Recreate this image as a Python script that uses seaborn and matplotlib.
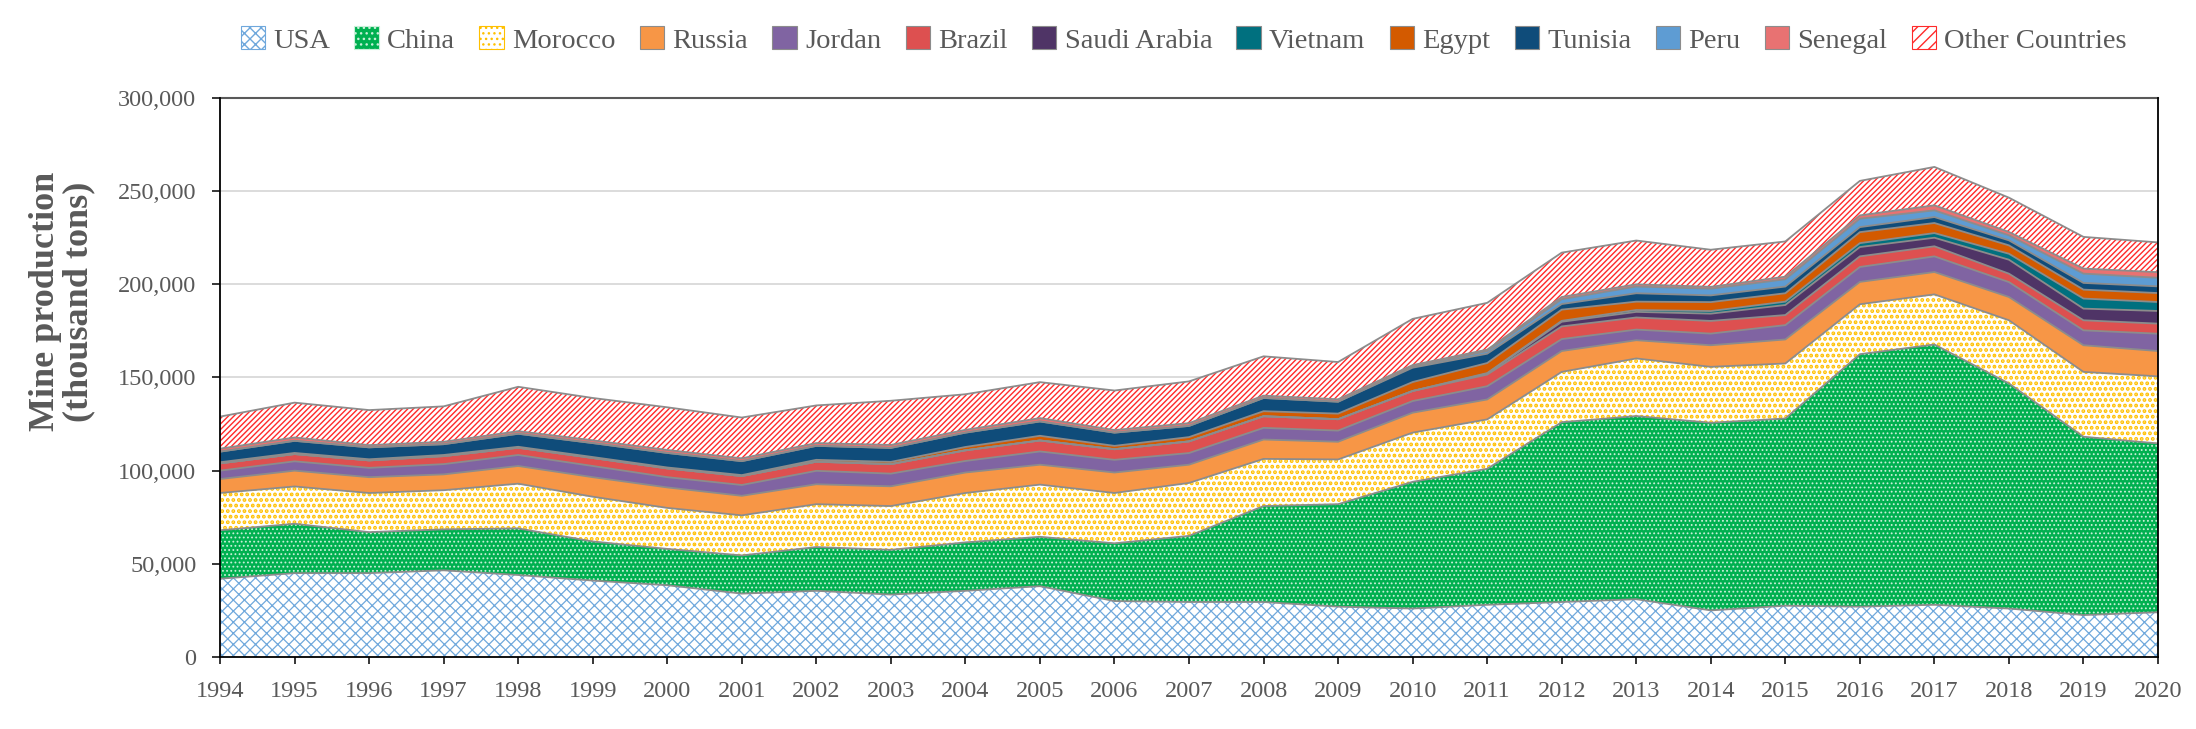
import matplotlib
matplotlib.use("Agg")
import matplotlib.pyplot as plt
import numpy as np
import pandas as pd
import seaborn as sns
from matplotlib.patches import Patch
from matplotlib.ticker import FuncFormatter, MultipleLocator

years = list(range(1994, 2021))

usa = [42000, 45000, 45000, 46500, 44000, 41000, 38500, 34000, 35500, 33500, 35500, 38000, 30000, 29500,
       29500, 27000, 26000, 28000, 29500, 31000, 25000, 27500, 27000, 28000, 26000, 22500, 24000]
china = [26000, 26500, 22000, 22000, 25000, 21000, 19500, 20500, 23500, 24000, 26000, 26500, 31000, 35500,
         51500, 55000, 68000, 73000, 96500, 98300, 100700, 100500, 135500, 139700, 120800, 95700, 90600]
morocco = [20000, 20000, 21000, 21000, 24000, 24000, 22000, 21500, 23000, 23500, 26500, 28000, 27000, 28400,
           25300, 24000, 26400, 26500, 27000, 30900, 30000, 29500, 26800, 26900, 33900, 34800, 36000]
russia = [7500, 8500, 8500, 8500, 9500, 10500, 11000, 10500, 10700, 10600, 11000, 10700, 11000, 9800,
          10400, 9500, 10700, 10700, 11200, 9800, 11600, 12900, 12000, 12000, 12500, 14300, 13600]
jordan = [4500, 5000, 5000, 5500, 5900, 6000, 5500, 5800, 7200, 6800, 6200, 7100, 6800, 6250,
          6250, 6000, 6250, 7100, 6400, 5700, 6250, 7700, 8000, 8400, 8000, 8000, 9300]
brazil = [3900, 3900, 4000, 4300, 3900, 4300, 4700, 4800, 4900, 5100, 5700, 5900, 5700, 6250,
          6250, 6100, 5400, 6250, 6800, 6500, 6800, 5400, 5700, 5400, 4500, 5400, 5400]
saudi_arabia = [0, 0, 0, 0, 0, 0, 0, 0, 0, 0, 0, 0, 0, 0,
                0, 0, 0, 500, 2500, 3000, 3900, 5400, 5000, 4600, 7500, 6250, 6800]
vietnam = [0, 0, 0, 0, 0, 0, 0, 0, 0, 0, 0, 0, 0, 0,
           0, 0, 0, 300, 500, 1000, 1400, 1800, 2100, 2500, 3200, 5400, 4800]
egypt = [600, 600, 600, 600, 500, 500, 500, 500, 1000, 1200, 1800, 2500, 1800, 2300,
         2700, 3000, 4800, 5400, 6000, 4500, 4800, 4500, 5900, 5400, 4500, 4800, 4800]
tunisia = [5700, 6500, 6400, 5800, 7000, 7500, 7800, 7500, 7500, 7500, 7700, 7700, 7100, 6000,
           7100, 6400, 7700, 5000, 3000, 4500, 3600, 3600, 2700, 3200, 2700, 3600, 3600]
peru = [0, 0, 0, 0, 0, 0, 0, 0, 0, 0, 0, 0, 0, 0,
        0, 0, 500, 1400, 2600, 3600, 3600, 3900, 4500, 3600, 2700, 5000, 4600]
senegal = [1600, 1800, 1200, 1300, 1400, 1500, 1600, 1500, 1500, 1600, 1500, 1800, 1400, 1500,
           1250, 1300, 900, 800, 1200, 1200, 1000, 1400, 1800, 2700, 1800, 2700, 3000]
other_countries = [17200, 18700, 18800, 19000, 23800, 22700, 22900, 21900, 20200, 23700, 19100, 19300, 21200, 22400,
                   21100, 20000, 24800, 25100, 23800, 23500, 19900, 18900, 18500, 20600, 18400, 17000, 16000]

countries = ["USA", "China", "Morocco", "Russia", "Jordan", "Brazil", "Saudi Arabia",
             "Vietnam", "Egypt", "Tunisia", "Peru", "Senegal", "Other Countries"]
series = [usa, china, morocco, russia, jordan, brazil, saudi_arabia,
          vietnam, egypt, tunisia, peru, senegal, other_countries]

styles = {
    "USA": dict(face="white", hatch="xxx", hcolor="#6FA8DC", hlw=0.9),
    "China": dict(face="#00B050", hatch="....", hcolor="#C8F0D8", hlw=0.8),
    "Morocco": dict(face="white", hatch="...", hcolor="#FFC000", hlw=1.9),
    "Russia": dict(face="#F79646"),
    "Jordan": dict(face="#8064A2"),
    "Brazil": dict(face="#DD5050"),
    "Saudi Arabia": dict(face="#4F3466"),
    "Vietnam": dict(face="#00707F"),
    "Egypt": dict(face="#D35A00"),
    "Tunisia": dict(face="#0F4C7A"),
    "Peru": dict(face="#5E9CD3"),
    "Senegal": dict(face="#E87272"),
    "Other Countries": dict(face="white", hatch="//////", hcolor="#FF2A2A", hlw=1.0),
}

df = pd.DataFrame(dict(zip(countries, series)), index=years)
cum = df.cumsum(axis=1)

sns.set_theme(style="white")
plt.rcParams["font.family"] = ["Liberation Serif", "DejaVu Serif"]
plt.rcParams["hatch.linewidth"] = 1.0

fig = plt.figure(figsize=(21.96, 7.29), dpi=100)
ax = fig.add_axes([0.1002, 0.0988, 0.8825, 0.7668])

x = np.array(years)
for name in countries:
    st = styles[name]
    upper = cum[name].values
    lower = upper - df[name].values
    ax.fill_between(x, lower, upper, facecolor=st["face"], edgecolor="none", linewidth=0, zorder=2)
    if st.get("hatch"):
        with plt.rc_context({"hatch.linewidth": st["hlw"]}):
            coll = ax.fill_between(x, lower, upper, facecolor="none", edgecolor=st["hcolor"],
                                   hatch=st["hatch"], linewidth=0, zorder=2.1)
        if hasattr(coll, "set_hatch_linewidth"):
            coll.set_hatch_linewidth(st["hlw"])

for name in countries:
    sns.lineplot(x=x, y=cum[name].values, ax=ax, color="#8C8C8C", linewidth=1.3,
                 legend=False, zorder=3)

ax.set_xlim(1994, 2020)
ax.set_ylim(0, 300000)
ax.set_xticks(years)
ax.set_xticklabels([str(y) for y in years])
ax.yaxis.set_major_locator(MultipleLocator(50000))
ax.yaxis.set_major_formatter(FuncFormatter(lambda v, p: f"{int(v):,}"))
ax.set_xlabel("")
ax.set_ylabel("")

ax.set_axisbelow(True)
ax.grid(axis="y", color="#D9D9D9", linewidth=1.3, zorder=0)
ax.grid(axis="x", visible=False)

for side in ["left", "right", "bottom"]:
    ax.spines[side].set_color("black")
    ax.spines[side].set_linewidth(1.3)
    ax.spines[side].set_zorder(5)
ax.spines["top"].set_color("#595959")
ax.spines["top"].set_linewidth(1.5)

ax.tick_params(axis="y", left=True, direction="out", length=6, width=1.1, color="black",
               pad=11, labelsize=17.5, labelcolor="#595959")
ax.tick_params(axis="x", bottom=True, direction="out", length=5, width=1.1, color="black",
               pad=12, labelsize=17.5, labelcolor="#595959")

fig.text(0.0283, 0.586, "Mine production\n(thousand tons)", rotation=90, ha="center", va="center",
         multialignment="center", fontsize=26, fontweight="bold", color="#595959", linespacing=1.0)

handles = []
for name in countries:
    st = styles[name]
    if st.get("hatch"):
        with plt.rc_context({"hatch.linewidth": st["hlw"]}):
            h = Patch(facecolor=st["face"], edgecolor=st["hcolor"], hatch=st["hatch"][:3], linewidth=0.8)
    else:
        h = Patch(facecolor=st["face"], edgecolor="#8C8C8C", linewidth=0.8)
    handles.append(h)

fig.legend(handles, countries, loc="center", bbox_to_anchor=(0.539, 0.945), ncol=13, frameon=False,
           fontsize=20.5, handlelength=0.85, handleheight=0.85, handletextpad=0.3, columnspacing=0.85,
           labelcolor="#595959")

fig.savefig("out.png", dpi=100)
